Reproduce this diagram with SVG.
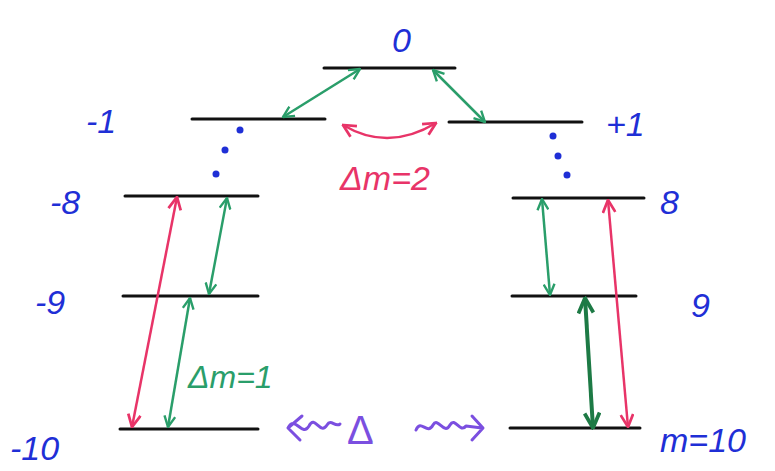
<svg xmlns="http://www.w3.org/2000/svg" width="775" height="471" viewBox="0 0 775 471">
<defs>
<style>
.lvl{stroke:#111;stroke-width:3;stroke-linecap:round}
.lbl{font-family:"Liberation Sans",Arial,sans-serif;fill:#1f2fd6;font-size:34px;font-style:italic}
.grn{stroke:#2a9e6a;stroke-width:2.5;fill:none}
.grnd{stroke:#1d7a45;stroke-width:4;fill:none}
.red{stroke:#e83468;stroke-width:2.5;fill:none}
.pur{stroke:#7b4fe0;stroke-width:3;fill:none;stroke-linecap:round;stroke-linejoin:round}
.dot{fill:#1f2fd6}
</style>
<marker id="ag" viewBox="0 0 12 12" refX="11" refY="6" markerWidth="13" markerHeight="13" markerUnits="userSpaceOnUse" orient="auto-start-reverse"><path d="M1,1 L11,6 L1,11" fill="none" stroke="#2a9e6a" stroke-width="2.2"/></marker>
<marker id="agd" viewBox="0 0 12 12" refX="11" refY="6" markerWidth="18" markerHeight="18" markerUnits="userSpaceOnUse" orient="auto-start-reverse"><path d="M1,1 L11,6 L1,11" fill="none" stroke="#1d7a45" stroke-width="2.5"/></marker>
<marker id="ar" viewBox="0 0 12 12" refX="11" refY="6" markerWidth="15" markerHeight="15" markerUnits="userSpaceOnUse" orient="auto-start-reverse"><path d="M1,1 L11,6 L1,11" fill="none" stroke="#e83468" stroke-width="2.2"/></marker>
</defs>
<rect width="775" height="471" fill="#fff"/>

<g id="level-0"><line class="lvl" x1="324" y1="68" x2="455" y2="68"/><text class="lbl" x="392" y="52">0</text></g>
<g id="level-m1"><line class="lvl" x1="192" y1="119" x2="325" y2="119"/><text class="lbl" x="86" y="133">-1</text></g>
<g id="level-p1"><line class="lvl" x1="449" y1="122" x2="582" y2="122"/><text class="lbl" x="606" y="136">+1</text></g>
<g id="level-m8"><line class="lvl" x1="125" y1="196" x2="258" y2="196"/><text class="lbl" x="50" y="214">-8</text></g>
<g id="level-m9"><line class="lvl" x1="123" y1="296" x2="258" y2="296"/><text class="lbl" x="35" y="314">-9</text></g>
<g id="level-m10"><line class="lvl" x1="120" y1="429" x2="258" y2="429"/><text class="lbl" x="10" y="460" font-size="38">-10</text></g>
<g id="level-p8"><line class="lvl" x1="513" y1="198" x2="644" y2="198"/><text class="lbl" x="660" y="214">8</text></g>
<g id="level-p9"><line class="lvl" x1="512" y1="296" x2="636" y2="296"/><text class="lbl" x="691" y="317">9</text></g>
<g id="level-p10"><line class="lvl" x1="510" y1="428" x2="640" y2="428"/><text class="lbl" x="660" y="452" font-size="38">m=10</text></g>

<g id="dots">
<circle class="dot" cx="240" cy="130" r="3.5"/><circle class="dot" cx="225" cy="150" r="3.5"/><circle class="dot" cx="216" cy="174" r="3.5"/>
<circle class="dot" cx="553" cy="136" r="3.5"/><circle class="dot" cx="558" cy="156" r="3.5"/><circle class="dot" cx="567" cy="175" r="3.5"/>
</g>

<g id="connectors">
<line class="grn" x1="283" y1="117" x2="360" y2="69" marker-start="url(#ag)" marker-end="url(#ag)"/>
<line class="grn" x1="433" y1="70" x2="485" y2="122" marker-start="url(#ag)" marker-end="url(#ag)"/>
<path class="red" d="M343,125 Q388,152 436,123" marker-start="url(#ar)" marker-end="url(#ar)"/>
<line class="red" x1="177" y1="197" x2="132" y2="427" marker-start="url(#ar)" marker-end="url(#ar)"/>
<line class="grn" x1="227" y1="198" x2="209" y2="294" marker-start="url(#ag)" marker-end="url(#ag)"/>
<line class="grn" x1="190" y1="298" x2="168" y2="427" marker-start="url(#ag)" marker-end="url(#ag)"/>
<line class="grn" x1="542" y1="199" x2="550" y2="295" marker-start="url(#ag)" marker-end="url(#ag)"/>
<line class="grnd" x1="585" y1="298" x2="593" y2="428" marker-start="url(#agd)" marker-end="url(#agd)"/>
<line class="red" x1="608" y1="200" x2="628" y2="427" marker-start="url(#ar)" marker-end="url(#ar)"/>
</g>

<g id="label-dm2"><text x="340" y="190" font-family="Liberation Sans,Arial,sans-serif" font-size="34" font-style="italic" fill="#e83468">Δm=2</text></g>
<g id="label-dm1"><text x="188" y="388" font-family="Liberation Sans,Arial,sans-serif" font-size="32" font-style="italic" fill="#2a9e6a">Δm=1</text></g>

<g id="label-delta">
<path class="pur" d="M302,416 L288,428 L300,440 M288,428 C295,414 302,438 309,426 C315,414 320,436 327,425 C331,418 335,428 340,424"/>
<text x="347" y="444" font-family="Liberation Sans,Arial,sans-serif" font-size="40" fill="#7b4fe0">Δ</text>
<path class="pur" d="M416,430 C421,418 427,436 433,425 C438,416 444,436 450,425 C455,416 460,434 466,426 L482,428 M472,416 L483,428 L472,440"/>
</g>
</svg>
